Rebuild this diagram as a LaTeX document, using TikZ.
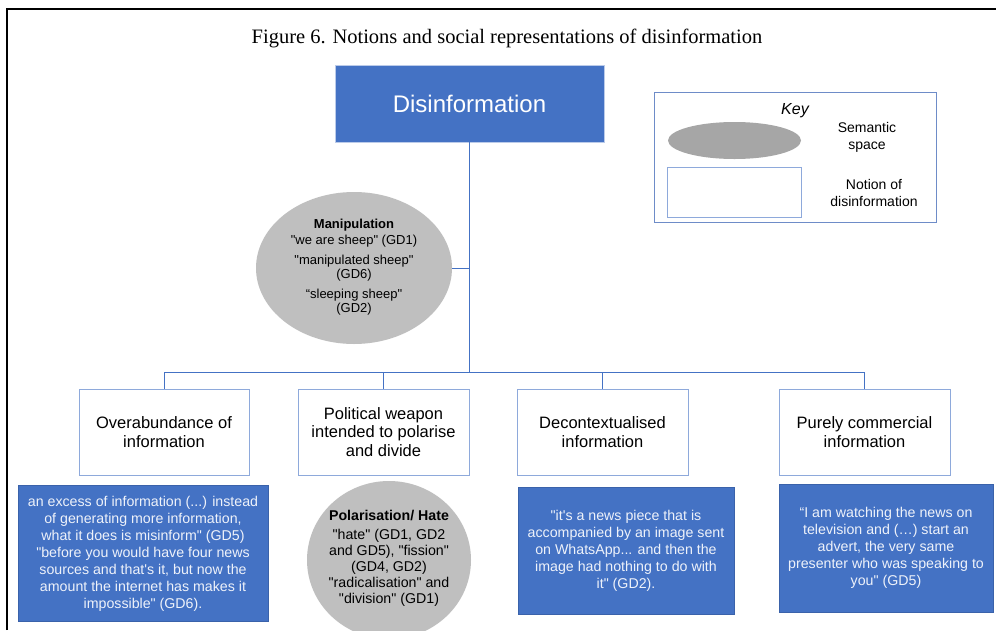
\documentclass[tikz,border=0pt]{standalone}
\usepackage{fontspec}
\setmainfont{Liberation Sans}[Ligatures=TeXOff]
\newfontfamily\titlefont{Liberation Serif}
\usetikzlibrary{shapes.geometric}
\definecolor{dblue}{HTML}{4472C4}
\definecolor{boxline}{HTML}{8EA9DB}
\definecolor{qline}{HTML}{3A62AA}
\definecolor{qtext}{HTML}{EEF2FA}
\definecolor{sgray}{HTML}{BFBFBF}
\definecolor{kgray}{HTML}{A6A6A6}
\definecolor{keyline}{HTML}{6E8CC8}
\tikzset{
  notion/.style={draw=boxline, line width=0.8pt, fill=white, minimum width=171pt, minimum height=86pt,
    align=center, font=\fontsize{16.5}{18.5}\selectfont, inner sep=2pt},
  quotebox/.style={draw=qline, line width=0.8pt, fill=dblue, text=qtext, align=center,
    font=\fontsize{14.2}{17}\selectfont, inner sep=2pt},
  semantic/.style={ellipse, fill=sgray, inner sep=0pt, align=center},
  link/.style={draw=dblue, line width=0.8pt},
}
\begin{document}
\begin{tikzpicture}[x=1pt,y=-1pt]
\useasboundingbox (0,0) rectangle (996,630);
\clip (0,0) rectangle (996,630);
\fill[white] (0,0) rectangle (996,630);
% frame
\coordinate (fbl) at (7,630);
\coordinate (ftl) at (7,9);
\coordinate (ftr) at (996,9);
\draw[black, line width=1.4pt] (fbl) -- (ftl) -- (ftr);
% title
\node[font=\titlefont\fontsize{20.5}{24}\selectfont] (title) at (507,38) {Figure 6. Notions and social representations of disinformation};
% main box
\node[draw=boxline!60, line width=0.8pt, fill=dblue, text=white, minimum width=269pt, minimum height=77pt,
  font=\fontsize{24}{28}\selectfont] (dis) at (469.5,103.5) {Disinformation};
% manipulation ellipse
\node[semantic, minimum width=196pt, minimum height=152pt] (man) at (354,268) {};
\node[align=center, font=\fontsize{13}{14.5}\selectfont] (mantext) at (354,267)
  {\textbf{Manipulation}\\[2pt]
   "we are sheep" (GD1)\\[5pt]
   "manipulated sheep"\\(GD6)\\[5pt]
   “sleeping sheep"\\(GD2)};
% notion boxes
\node[notion, minimum width=170pt] (b1) at (164,432) {Overabundance of\\information};
\node[notion] (b2) at (383.5,432) {Political weapon\\intended to polarise\\and divide};
\node[notion] (b3) at (602.5,432) {Decontextualised\\information};
\node[notion] (b4) at (864.5,432) {Purely commercial\\information};
% connectors
\coordinate (j) at (469.5,372);
\draw[link] (dis.south) -- (j);
\draw[link] (j) -| (b1.north);
\draw[link] (j) -| (b2.north);
\draw[link] (j) -| (b3.north);
\draw[link] (j) -| (b4.north);
\draw[link] (man.east) -- (man.east -| j);
% quote boxes
\node[quotebox, minimum width=250pt, minimum height=136pt] (q1) at (143,553.5)
  {an excess of information (...) instead\\of generating more information,\\what it does is misinform" (GD5)\\"before you would have four news\\sources and that's it, but now the\\amount the internet has makes it\\impossible" (GD6).};
\node[semantic, minimum width=164pt, minimum height=158pt] (pol) at (389,560) {};
\node[align=center, font=\fontsize{14.2}{16}\selectfont] (poltext) at (389,558)
  {\textbf{Polarisation/ Hate}\\[3pt]
   "hate" (GD1, GD2\\and GD5), "fission"\\(GD4, GD2)\\"radicalisation" and\\"division" (GD1)};
\node[quotebox, minimum width=216pt, minimum height=127pt] (q3) at (626,550.5)
  {"it's a news piece that is\\accompanied by an image sent\\on WhatsApp... and then the\\image had nothing to do with\\it" (GD2).};
\node[quotebox, minimum width=214pt, minimum height=128pt] (q4) at (886,548)
  {“I am watching the news on\\television and (…) start an\\advert, the very same\\presenter who was speaking to\\you" (GD5)};
% key
\node[draw=keyline, line width=0.8pt, minimum width=282pt, minimum height=130pt] (key) at (795,157) {};
\node[font=\itshape\fontsize{16}{18}\selectfont] (keytitle) at (795,110.5) {Key};
\node[ellipse, fill=kgray, minimum width=133pt, minimum height=37pt, inner sep=0pt] (kell) at (734.5,140.5) {};
\node[align=center, font=\fontsize{14}{17}\selectfont] (kelltext) at (867,137) {Semantic\\space};
\node[draw=boxline, line width=0.8pt, minimum width=134pt, minimum height=50pt] (krect) at (734,192) {};
\node[align=center, font=\fontsize{14}{17}\selectfont] (krecttext) at (874,193) {Notion of\\disinformation};
\end{tikzpicture}
\end{document}
